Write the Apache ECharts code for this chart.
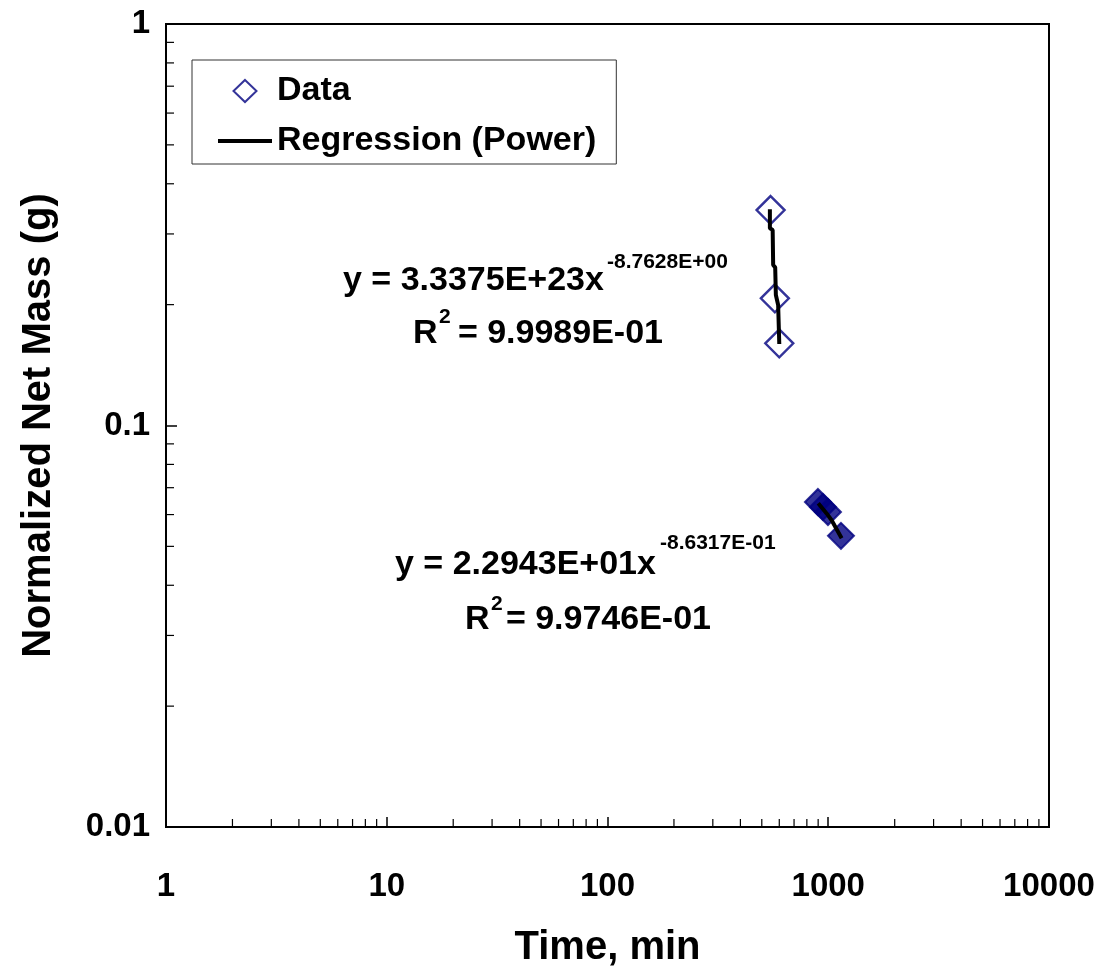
<!DOCTYPE html>
<html>
<head>
<meta charset="utf-8">
<script src="https://cdn.jsdelivr.net/npm/echarts@6/dist/echarts.min.js"></script>
<style>
  html, body { margin: 0; padding: 0; background: #fff; }
  #chart { width: 1101px; height: 966px; }
</style>
</head>
<body>
<div id="chart"></div>
<script>
// Early mass-loss points (hollow diamonds) and later points (filled diamonds)
const earlyTime = [548, 573, 600];
const earlyMass = [0.344, 0.2074, 0.1602];
const lateTime = [898, 946, 997, 1142];
const lateMass = [0.0645, 0.0627, 0.0609, 0.0531];

// Fitted power-law curves as plotted
const fit1Time = [544, 544, 560, 563, 575, 579, 593, 600];
const fit1Mass = [0.3455, 0.31, 0.307, 0.2511, 0.2477, 0.2114, 0.1996, 0.1596];
const fit2Time = [901, 983, 1036, 1150];
const fit2Mass = [0.064, 0.0604, 0.0581, 0.0524];

// Axis tick labels and minor tick values
const xTickLabels = ['1', '10', '100', '1000', '10000'];
const yTickLabels = ['0.01', '0.1', '1'];
const xMinorTicks = [2, 3, 4, 5, 6, 7, 8, 9, 20, 30, 40, 50, 60, 70, 80, 90,
  200, 300, 400, 500, 600, 700, 800, 900, 2000, 3000, 4000, 5000, 6000, 7000, 8000, 9000];
const yMinorTicks = [0.02, 0.03, 0.04, 0.05, 0.06, 0.07, 0.08, 0.09,
  0.2, 0.3, 0.4, 0.5, 0.6, 0.7, 0.8, 0.9];

const FONT = "'Liberation Sans', Arial, sans-serif";
const NAVY = '#000080';

const zip = (a, b) => a.map((v, i) => [v, b[i]]);

// legend glyphs: a diamond centred in a 54x22 box, and a short thick bar
const DIAMOND_ICON = 'path://M27,0L38.5,11L27,22L15.5,11Z M0,11L0,11 M54,11L54,11';
const BAR_ICON = 'path://M0,0L54,0L54,4L0,4Z';

const chart = echarts.init(document.getElementById('chart'), null, { renderer: 'canvas' });

const option = {
  backgroundColor: '#fff',
  animation: false,
  grid: {
    left: 166, right: 52, top: 24, bottom: 139,
    outerBoundsMode: 'none',
    containLabel: false,
    show: true, borderColor: '#000', borderWidth: 2
  },
  legend: {
    data: [
      { name: 'Data', icon: DIAMOND_ICON,
        itemStyle: { color: 'rgba(0,0,0,0)', borderColor: NAVY, borderWidth: 2 } },
      { name: 'Regression (Power)', icon: BAR_ICON,
        itemStyle: { color: '#000', borderWidth: 0 } }
    ],
    orient: 'vertical',
    left: 192, top: 60,
    padding: [14, 20, 6, 25],
    itemGap: 16,
    itemWidth: 54,
    itemHeight: 22,
    itemTextGap: 14,
    borderColor: '#333',
    borderWidth: 1,
    selectedMode: false,
    textStyle: { fontFamily: FONT, fontWeight: 'bold', fontSize: 34, color: '#000' }
  },
  xAxis: {
    type: 'log', logBase: 10, min: 1, max: 10000,
    name: 'Time, min', nameLocation: 'middle', nameGap: 101,
    nameTextStyle: { fontFamily: FONT, fontWeight: 'bold', fontSize: 40, color: '#000' },
    axisLine: { lineStyle: { color: '#000', width: 2 } },
    axisTick: { inside: true, length: 10, lineStyle: { color: '#000', width: 1.5 } },
    axisLabel: {
      margin: 43, fontFamily: FONT, fontWeight: 'bold', fontSize: 33, color: '#000',
      formatter: (v, i) => xTickLabels[i]
    },
    splitLine: { show: false }
  },
  yAxis: {
    type: 'log', logBase: 10, min: 0.01, max: 1,
    name: 'Normalized Net Mass (g)', nameLocation: 'middle', nameGap: 107,
    nameTextStyle: { fontFamily: FONT, fontWeight: 'bold', fontSize: 40, color: '#000' },
    axisLine: { lineStyle: { color: '#000', width: 2 } },
    axisTick: { inside: true, length: 11, lineStyle: { color: '#000', width: 1.5 } },
    axisLabel: {
      margin: 16, fontFamily: FONT, fontWeight: 'bold', fontSize: 33, color: '#000',
      formatter: (v, i) => yTickLabels[i]
    },
    splitLine: { show: false }
  },
  series: [
    {
      name: 'Data', type: 'scatter', symbol: 'diamond', symbolSize: 28,
      itemStyle: { color: 'rgba(0,0,0,0)', borderColor: NAVY, borderWidth: 2.4 },
      data: zip(earlyTime, earlyMass), z: 3
    },
    {
      name: 'Data (late)', type: 'scatter', symbol: 'diamond', symbolSize: 26,
      itemStyle: { color: NAVY, borderColor: NAVY, borderWidth: 2 },
      data: zip(lateTime, lateMass), z: 3
    },
    {
      name: 'Regression (Power)', type: 'line', symbol: 'none',
      lineStyle: { color: '#000', width: 4 }, itemStyle: { color: '#000' },
      data: zip(fit1Time, fit1Mass), z: 4
    },
    {
      name: 'Regression (Power)', type: 'line', symbol: 'none',
      lineStyle: { color: '#000', width: 4 }, itemStyle: { color: '#000' },
      data: zip(fit2Time, fit2Mass), z: 4
    },
    {
      // minor ticks along the bottom (time) axis
      type: 'custom', silent: true, z: 5,
      data: xMinorTicks.map(v => [v, 0.01]),
      renderItem: (params, api) => {
        const p = api.coord([api.value(0), api.value(1)]);
        return { type: 'line', shape: { x1: p[0], y1: p[1], x2: p[0], y2: p[1] - 8 },
                 style: { stroke: '#000', lineWidth: 1.2 } };
      }
    },
    {
      // minor ticks along the left (mass) axis
      type: 'custom', silent: true, z: 5,
      data: yMinorTicks.map(v => [1, v]),
      renderItem: (params, api) => {
        const p = api.coord([api.value(0), api.value(1)]);
        return { type: 'line', shape: { x1: p[0], y1: p[1], x2: p[0] + 8, y2: p[1] },
                 style: { stroke: '#000', lineWidth: 1.2 } };
      }
    }
  ],
  graphic: [
    // fit equation for the early points
    { type: 'text', left: 343, top: 264,
      style: { text: 'y = 3.3375E+23x', font: `bold 34px ${FONT}`, fill: '#000' } },
    { type: 'text', left: 607, top: 252,
      style: { text: '-8.7628E+00', font: `bold 21px ${FONT}`, fill: '#000' } },
    { type: 'text', left: 413, top: 317,
      style: { text: 'R', font: `bold 34px ${FONT}`, fill: '#000' } },
    { type: 'text', left: 439, top: 307,
      style: { text: '2', font: `bold 21px ${FONT}`, fill: '#000' } },
    { type: 'text', right: 1101 - 663, top: 317,
      style: { text: ' = 9.9989E-01', font: `bold 34px ${FONT}`, fill: '#000' } },
    // fit equation for the later points
    { type: 'text', left: 395, top: 548,
      style: { text: 'y = 2.2943E+01x', font: `bold 34px ${FONT}`, fill: '#000' } },
    { type: 'text', left: 660, top: 533,
      style: { text: '-8.6317E-01', font: `bold 21px ${FONT}`, fill: '#000' } },
    { type: 'text', left: 465, top: 603,
      style: { text: 'R', font: `bold 34px ${FONT}`, fill: '#000' } },
    { type: 'text', left: 491, top: 594,
      style: { text: '2', font: `bold 21px ${FONT}`, fill: '#000' } },
    { type: 'text', right: 1101 - 711, top: 603,
      style: { text: ' = 9.9746E-01', font: `bold 34px ${FONT}`, fill: '#000' } }
  ]
};

chart.setOption(option);
</script>
</body>
</html>
